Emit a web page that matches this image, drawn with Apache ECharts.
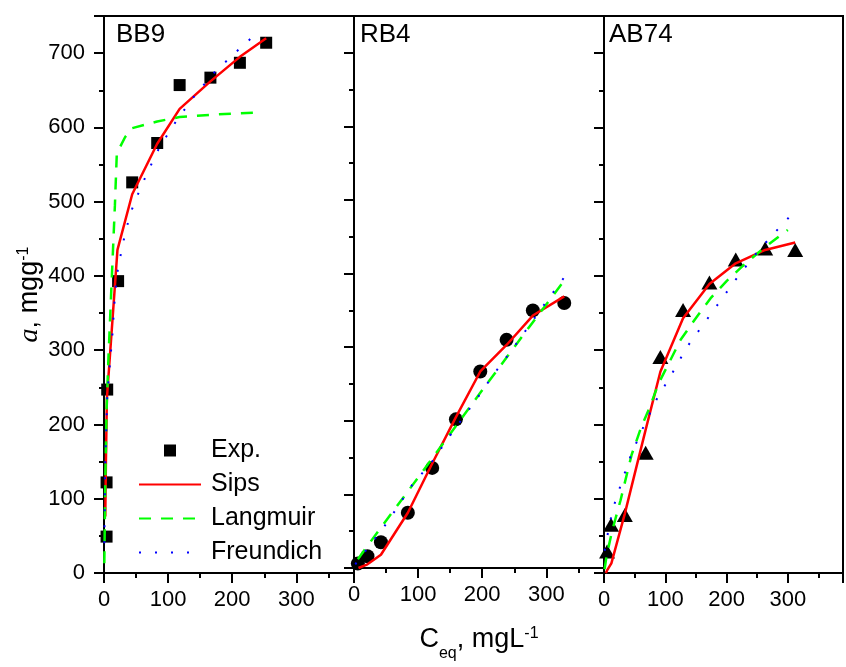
<!DOCTYPE html>
<html><head><meta charset="utf-8">
<script src="https://cdn.jsdelivr.net/npm/echarts@6/dist/echarts.min.js"></script>
<style>html,body{margin:0;padding:0;background:#fff}#c{width:846px;height:667px}</style>
</head><body><div id="c"></div>
<script>
// ---- data (x = Ceq mg/L, y = a mg/g) ----
const panelNames = ['BB9', 'RB4', 'AB74'];
const xTicks = [0, 100, 200, 300];
const yTicks = [0, 100, 200, 300, 400, 500, 600, 700];

const bb9Exp = [[4,49],[4,122],[5,247],[22,393],[44,526],[83,579],[118,657],[166,667],[212,687],[253,714]];
const bb9Sips = [[2,76],[3,150],[4.5,235],[21,435],[44,510],[83,578],[118,625],[166,662],[212,695],[253,720]];
const bb9Langmuir = [[0.5,13],[2,120],[4,220],[7,291],[12,394],[17,495],[20,565],[33,587],[44,599],[83,608],[118,614],[166,617],[212,619],[240,620]];
const bb9Freundlich = [[0.5,40],[2,150],[5,237],[9,279],[13,320],[16,361],[20,401],[29,442],[40,481],[48,500],[67,538],[87,574],[113,609],[140,641],[171,673],[204,700],[241,729]];

const rb4Exp = [[6,6],[21,16],[42,35],[84,75],[122,136],[159,202],[197,267],[238,310],[279,350],[328,360]];
const rb4Sips = [[7,0],[21,5],[42,18],[84,75],[122,142],[159,205],[197,267],[238,303],[279,343],[328,369]];
const rb4Langmuir = [[6,12],[21,30],[42,55],[84,104],[122,149],[159,193],[197,238],[238,286],[279,334],[325,387]];
const rb4Freundlich = [[2,5],[23,29],[52,62],[90,112],[122,145],[149,179],[190,228],[217,262],[246,296],[273,329],[301,363],[328,395]];

const ab74Exp = [[5,29],[11.5,65],[34,78],[68,162],[92,291],[129,354],[172,391],[215,422],[263,437],[312,435]];
const ab74Sips = [[3,0],[6,5],[12,13],[34,80],[68,193],[92,271],[129,343],[172,389],[215,417],[263,435],[312,445]];
const ab74Langmuir = [[1,5],[4,22],[13,56],[27,98],[45,159],[61,197],[74,222],[89,255],[125,314],[148,341],[174,370],[200,393],[231,417],[263,439],[300,462]];
const ab74Freundlich = [[1,30],[4,44],[14,85],[29,123],[45,161],[65,198],[86,234],[112,270],[136,305],[165,338],[193,370],[222,403],[252,434],[285,464],[302,479]];

const expSets = [bb9Exp, rb4Exp, ab74Exp];
const sipsSets = [bb9Sips, rb4Sips, ab74Sips];
const langSets = [bb9Langmuir, rb4Langmuir, ab74Langmuir];
const freuSets = [bb9Freundlich, rb4Freundlich, ab74Freundlich];

// ---- layout / style ----
const FONT = '"Liberation Sans", Arial, sans-serif';
const lefts = [104, 354, 604];
const W = 250;
const expSymbols = [['rect', 12], ['circle', 14], ['triangle', [16, 14]]];
const expNames = ['Exp.', 'Exp. RB4', 'Exp. AB74'];

const grids = [], xAxes = [], yAxes = [], series = [], titles = [];
const titleLefts = [116, 360, 609];

for (let g = 0; g < 3; g++) {
  grids.push({left: lefts[g], top: 16, width: W, height: 557, show: true,
    borderColor: '#000', borderWidth: 2, backgroundColor: 'transparent', containLabel: false});
  const xMain = {gridIndex: g, type: 'value', min: 0, max: 390, interval: 100, position: 'bottom',
    axisLine: {show: true, onZero: false, lineStyle: {color: '#000', width: 2}},
    axisTick: {show: true, length: 10, lineStyle: {color: '#000', width: 2}},
    axisLabel: {show: true, interval: 0, fontSize: 22, color: '#000', fontFamily: FONT, margin: 16,
      formatter: v => (xTicks.indexOf(v) >= 0 ? String(v) : '')},
    splitLine: {show: false}};
  if (g === 1) {
    xMain.name = '{m|C}{sub|eq}{m|, mgL}{sup|-1}';
    xMain.nameLocation = 'middle';
    xMain.nameGap = 58;
    xMain.nameTextStyle = {fontFamily: FONT, color: '#000', rich: {
      m: {fontSize: 27, lineHeight: 30, verticalAlign: 'top', fontFamily: FONT, color: '#000'},
      sub: {fontSize: 16, lineHeight: 16, padding: [20, 0, 0, 0], verticalAlign: 'top', fontFamily: FONT, color: '#000'},
      sup: {fontSize: 16, lineHeight: 16, verticalAlign: 'top', fontFamily: FONT, color: '#000'}
    }};
  }
  xAxes.push(xMain);
  xAxes.push({gridIndex: g, type: 'value', min: 0, max: 390, interval: 50, position: 'bottom',
    axisLine: {show: false, onZero: false}, axisTick: {show: true, length: 5, lineStyle: {color: '#000', width: 2}},
    axisLabel: {show: false}, splitLine: {show: false}});

  const yMain = {gridIndex: g, type: 'value', min: 0, max: 750, interval: 100, position: 'left',
    axisLine: {show: true, onZero: false, lineStyle: {color: '#000', width: 2}},
    axisTick: {show: true, length: 10, lineStyle: {color: '#000', width: 2}},
    axisLabel: {show: g === 0, fontSize: 22, color: '#000', fontFamily: FONT, margin: 19,
      formatter: v => (yTicks.indexOf(v) >= 0 ? String(v) : '')},
    splitLine: {show: false}};
  if (g === 0) {
    yMain.name = '{i|a}{m|, mgg}{sup|-1}';
    yMain.nameLocation = 'middle';
    yMain.nameRotate = 90;
    yMain.nameGap = 58;
    yMain.nameTextStyle = {fontFamily: FONT, color: '#000', rich: {
      i: {fontSize: 28, lineHeight: 30, verticalAlign: 'top', fontFamily: '"Liberation Serif", "Times New Roman", serif', fontStyle: 'italic', color: '#000'},
      m: {fontSize: 27, lineHeight: 30, verticalAlign: 'top', fontFamily: FONT, color: '#000'},
      sup: {fontSize: 16, lineHeight: 16, verticalAlign: 'top', fontFamily: FONT, color: '#000'}
    }};
  }
  yAxes.push(yMain);
  yAxes.push({gridIndex: g, type: 'value', min: 0, max: 750, interval: 50, position: 'left', offset: 0,
    axisLine: {show: false, onZero: false}, axisTick: {show: true, length: 5, lineStyle: {color: '#000', width: 2}},
    axisLabel: {show: false}, splitLine: {show: false}});

  titles.push({text: panelNames[g], left: titleLefts[g], top: 22, padding: 0,
    textStyle: {fontSize: 26, fontWeight: 'normal', color: '#000', fontFamily: FONT}});

  series.push({name: expNames[g], type: 'scatter', xAxisIndex: 2 * g, yAxisIndex: 2 * g,
    symbol: expSymbols[g][0], symbolSize: expSymbols[g][1], itemStyle: {color: '#000', opacity: 1},
    data: expSets[g], z: 3, clip: false});
  series.push({name: 'Sips', type: 'line', xAxisIndex: 2 * g, yAxisIndex: 2 * g, symbol: 'none',
    lineStyle: {color: '#ff0000', width: 2.5}, itemStyle: {color: '#ff0000'}, data: sipsSets[g], z: 4});
  series.push({name: 'Langmuir', type: 'line', xAxisIndex: 2 * g, yAxisIndex: 2 * g, symbol: 'none',
    lineStyle: {color: '#00ff00', width: 2.5, type: [12, 10]}, itemStyle: {color: '#00ff00'}, data: langSets[g], z: 4});
  series.push({name: 'Freundich', type: 'line', xAxisIndex: 2 * g, yAxisIndex: 2 * g, symbol: 'none',
    lineStyle: {color: '#0000ff', width: 2, type: [2, 14]}, itemStyle: {color: '#0000ff'}, data: freuSets[g], z: 4});
}

const hidden = {color: 'rgba(0,0,0,0)', borderColor: 'rgba(0,0,0,0)', borderWidth: 0};
const chart = echarts.init(document.getElementById('c'), null, {renderer: 'canvas'});
chart.setOption({
  animation: false,
  backgroundColor: '#fff',
  textStyle: {fontFamily: FONT},
  title: titles,
  legend: {
    orient: 'vertical', left: 138, top: 438, itemWidth: 62, itemHeight: 12, itemGap: 9,
    selectedMode: false, padding: 0,
    textStyle: {fontSize: 25, lineHeight: 25, color: '#000', fontFamily: FONT, padding: [0, 0, 0, 5]},
    data: [
      {name: 'Exp.', icon: 'path://M0,0H10V10H0Z', itemStyle: {color: '#000', opacity: 1}},
      {name: 'Sips', itemStyle: hidden},
      {name: 'Langmuir', itemStyle: hidden},
      {name: 'Freundich', itemStyle: hidden}
    ]
  },
  grid: grids, xAxis: xAxes, yAxis: yAxes, series: series
});
</script></body></html>
